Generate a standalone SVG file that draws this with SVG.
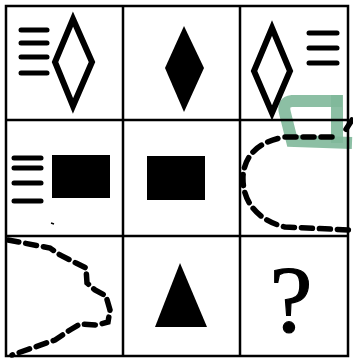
<svg xmlns="http://www.w3.org/2000/svg" width="353" height="358" viewBox="0 0 353 358">
<defs>
<style>
.grid{stroke:#000;stroke-width:2.5;fill:none}
.bar{stroke:#000;stroke-width:5;stroke-linecap:round}
.outline{fill:none;stroke:#000;stroke-width:6;stroke-linejoin:miter}
.solid{fill:#000}
.dash{fill:none;stroke:#000;stroke-width:5.5;stroke-dasharray:11 7;stroke-linecap:round}
.wm{fill:none;stroke:#7fb89a;stroke-width:12;opacity:0.9}
</style>
</defs>
<rect width="353" height="358" fill="#fff"/>
<g id="watermark">
<path class="wm" d="M342 101 L292 101 Q282 102 285 113 L292 141 L352 143"/>
<line class="wm" x1="337" y1="95" x2="337" y2="143"/>
</g>
<g id="grid">
<rect class="grid" x="6" y="6" width="342" height="350"/>
<line class="grid" x1="123" y1="6" x2="123" y2="356"/>
<line class="grid" x1="240" y1="6" x2="240" y2="356"/>
<line class="grid" x1="6" y1="120" x2="348" y2="120"/>
<line class="grid" x1="6" y1="236" x2="348" y2="236"/>
</g>
<g id="cell-1-1">
<line class="bar" x1="21" y1="30" x2="47" y2="30"/>
<line class="bar" x1="21" y1="43" x2="47" y2="43"/>
<line class="bar" x1="21" y1="57" x2="47" y2="57"/>
<line class="bar" x1="21" y1="73" x2="47" y2="73"/>
<polygon class="outline" points="73,19 92,62 73,106 55,62"/>
</g>
<g id="cell-1-2">
<polygon class="solid" points="184,26 204,68 184,112 165,68"/>
</g>
<g id="cell-1-3">
<polygon class="outline" points="272,28 290,71 272,113 254,71"/>
<line class="bar" x1="309" y1="33" x2="337" y2="33"/>
<line class="bar" x1="309" y1="48" x2="337" y2="48"/>
<line class="bar" x1="309" y1="63" x2="337" y2="63"/>
</g>
<g id="cell-2-1">
<line class="bar" x1="14" y1="158" x2="41" y2="158"/>
<line class="bar" x1="14" y1="168" x2="41" y2="168"/>
<line class="bar" x1="14" y1="183" x2="41" y2="183"/>
<line class="bar" x1="14" y1="201" x2="41" y2="201"/>
<rect class="solid" x="52" y="155" width="58" height="43"/>
<line x1="51" y1="223" x2="54" y2="224" stroke="#000" stroke-width="1.5"/>
</g>
<g id="cell-2-2">
<rect class="solid" x="147" y="156" width="58" height="44"/>
</g>
<g id="cell-2-3">
<path class="dash" d="M352 120 L343 134 M332 137 L285 137 C262 141 245 152 243 176 C242 200 256 220 285 227 L350 230"/>
</g>
<g id="cell-3-1">
<path class="dash" d="M8 240 L50 248 L60 255 L76 263 L86 268 L87 283 L95 290 L106 296 L110 310 L108 322 L97 325 L80 324 L70 330 L55 340 L35 347 L12 355"/>
</g>
<g id="cell-3-2">
<polygon class="solid" points="180,263 207,327 155,327"/>
</g>
<g id="cell-3-3">
<text x="291" y="332" font-family="Liberation Serif, serif" font-size="96" stroke="#000" stroke-width="1.2" text-anchor="middle">?</text>
</g>
</svg>
